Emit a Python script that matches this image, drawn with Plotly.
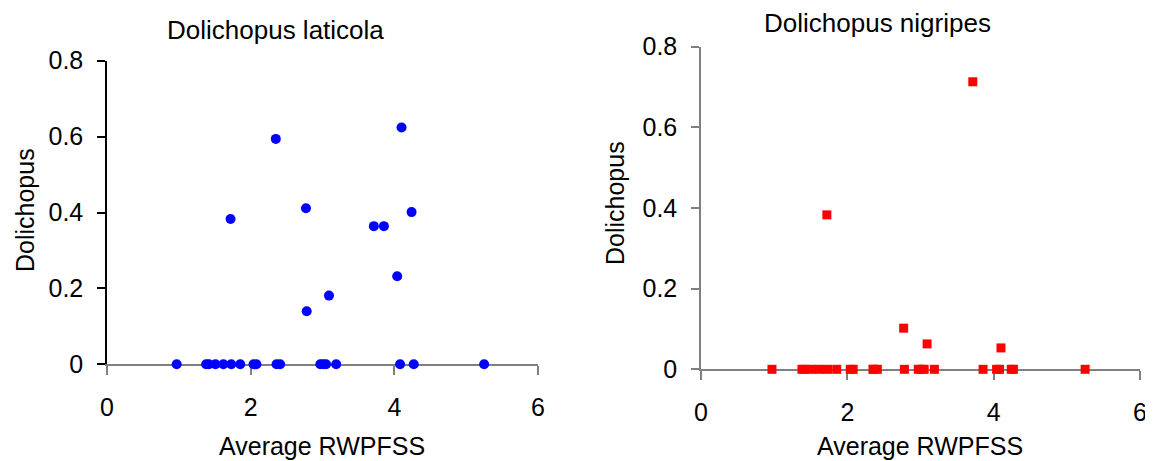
import plotly.graph_objects as go

# Site values: average RWPFSS (x) shared by both panels
rwpfss = [0.97, 1.38, 1.42, 1.51, 1.62, 1.72, 1.73, 1.855, 2.04, 2.08,
          2.35, 2.36, 2.41, 2.77, 2.78, 2.97, 3.01, 3.05, 3.09, 3.19,
          3.715, 3.855, 4.04, 4.08, 4.10, 4.24, 4.27, 5.25]

laticola = [0, 0, 0, 0, 0, 0.383, 0, 0, 0, 0,
            0.594, 0, 0, 0.411, 0.14, 0, 0, 0, 0.181, 0,
            0.364, 0.364, 0.232, 0, 0.624, 0.401, 0, 0]

nigripes = [0, 0, 0, 0, 0, 0.383, 0, 0, 0, 0,
            0, 0, 0, 0.102, 0, 0, 0, 0, 0.063, 0,
            0.713, 0, 0, 0, 0.053, 0, 0, 0]

x_ticks = [0, 2, 4, 6]
y_ticks = [0, 0.2, 0.4, 0.6, 0.8]
y_ticklabels = ["0", "0.2", "0.4", "0.6", "0.8"]

titles = ["Dolichopus laticola", "Dolichopus nigripes"]
x_title = "Average RWPFSS"
y_title = "Dolichopus"

# page body has an 8px margin: the figure is placed at (8, 8)
OFF = 8
W, H = 1153 - OFF, 461 - OFF
FONT = "Liberation Sans, Arial, sans-serif"
FS_TICK = 25
FS_TITLE = 26
FS_AXT = 25

fig = go.Figure()
fig.add_trace(go.Scatter(x=rwpfss, y=laticola, mode="markers",
                         marker=dict(symbol="circle", size=10, color="#0000FF"),
                         cliponaxis=False, xaxis="x", yaxis="y", showlegend=False))
fig.add_trace(go.Scatter(x=rwpfss, y=nigripes, mode="markers",
                         marker=dict(symbol="square", size=9, color="#FF0000"),
                         cliponaxis=False, xaxis="x2", yaxis="y2", showlegend=False))

def px_x(p):
    return (p - OFF) / W

def px_y(p):
    return 1 - (p - OFF) / H

grey = "#808080"
common_x = dict(range=[0, 6], tickvals=x_ticks, showline=True, linecolor=grey, linewidth=1.5,
                ticks="outside", ticklen=9, tickwidth=1.5, tickcolor=grey, showgrid=False,
                zeroline=False, layer="below traces", ticklabelstandoff=11, automargin=False,
                tickfont=dict(family=FONT, size=FS_TICK, color="black"))
common_y = dict(range=[0, 0.8], tickvals=y_ticks, ticktext=y_ticklabels, showline=True,
                linewidth=1.5, ticks="outside", ticklen=8, tickwidth=1.5, showgrid=False,
                zeroline=False, layer="below traces", ticklabelstandoff=9, automargin=False,
                tickfont=dict(family=FONT, size=FS_TICK, color="black"))

fig.update_layout(
    width=W, height=H,
    margin=dict(l=0, r=0, t=0, b=0, pad=0),
    paper_bgcolor="white", plot_bgcolor="white",
    xaxis=dict(domain=[px_x(107), px_x(538)], anchor="y", **common_x),
    yaxis=dict(domain=[px_y(364.3), px_y(60.7)], anchor="x", linecolor="black",
               tickcolor="black", **common_y),
    xaxis2=dict(domain=[px_x(701), px_x(1140)], anchor="y2", **common_x),
    yaxis2=dict(domain=[px_y(369.3), px_y(46.7)], anchor="x2", linecolor=grey,
                tickcolor=grey, **common_y),
)

annots = [
    dict(text=titles[0], x=px_x(275), y=px_y(30), size=FS_TITLE),
    dict(text=titles[1], x=px_x(877), y=px_y(23), size=FS_TITLE),
    dict(text=x_title, x=px_x(322), y=px_y(446), size=FS_AXT),
    dict(text=x_title, x=px_x(920), y=px_y(446), size=FS_AXT),
    dict(text=y_title, x=px_x(25), y=px_y(210), size=FS_AXT, textangle=-90),
    dict(text=y_title, x=px_x(615), y=px_y(203), size=FS_AXT, textangle=-90),
]
for a in annots:
    size = a.pop("size")
    fig.add_annotation(xref="paper", yref="paper", showarrow=False,
                       xanchor="center", yanchor="middle", borderpad=0,
                       font=dict(family=FONT, size=size, color="black"), **a)

fig.write_html("out.html")
